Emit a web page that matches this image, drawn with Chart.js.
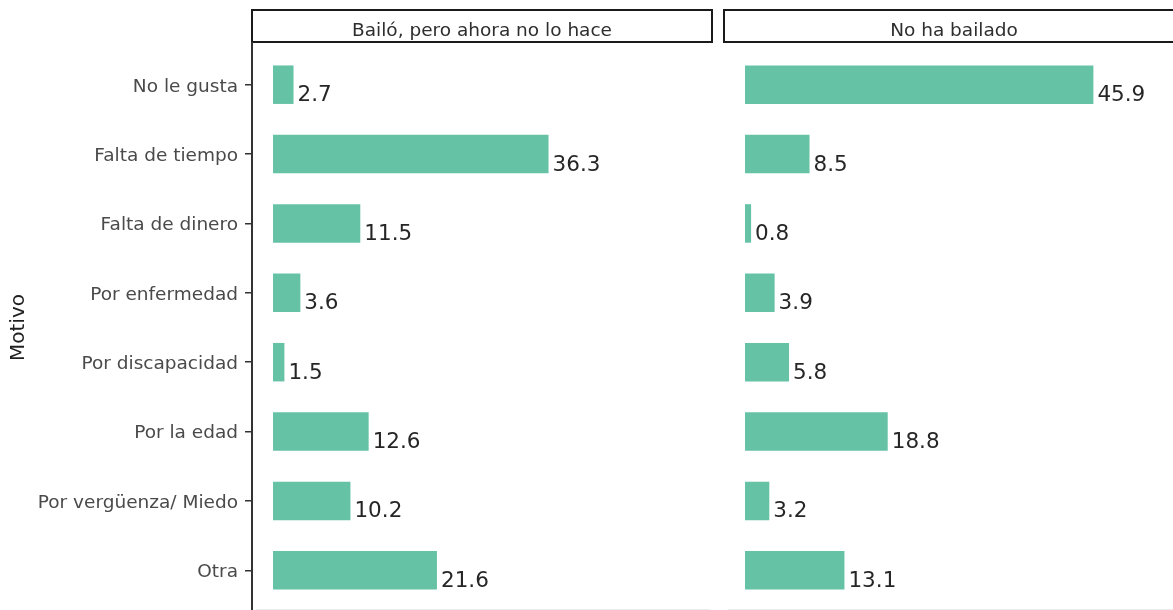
<!DOCTYPE html>
<html>
<head>
<meta charset="utf-8">
<script src="https://cdn.jsdelivr.net/npm/chart.js@4.4.1/dist/chart.umd.min.js"></script>
<style>
  html, body { margin: 0; padding: 0; background: #ffffff; overflow: hidden; width: 1173px; height: 610px; }
  #wrap { position: relative; width: 1173px; height: 610px; overflow: hidden; }
  canvas { position: absolute; top: 0; }
  #c1 { left: 0px; }
  #c2 { left: 721px; }
</style>
</head>
<body>
<div id="wrap">
  <canvas id="c1" width="716" height="610"></canvas>
  <canvas id="c2" width="470" height="610"></canvas>
</div>
<script>
// ---- data ----
const categories = [
  'No le gusta',
  'Falta de tiempo',
  'Falta de dinero',
  'Por enfermedad',
  'Por discapacidad',
  'Por la edad',
  'Por vergüenza/ Miedo',
  'Otra'
];
const valuesBailo = [2.7, 36.3, 11.5, 3.6, 1.5, 12.6, 10.2, 21.6];
const valuesNoBailado = [45.9, 8.5, 0.8, 3.9, 5.8, 18.8, 3.2, 13.1];
const panelTitles = ['Bailó, pero ahora no lo hace', 'No ha bailado'];
const yAxisTitle = 'Motivo';

// ---- styling ----
const FONT = "'DejaVu Sans', 'Liberation Sans', Arial, sans-serif";
const BAR_COLOR = '#66C2A5';
const X_MIN = -2.77;
const X_MAX = 57.84;

Chart.defaults.font.family = FONT;

const stripPlugin = {
  id: 'strip',
  afterDraw(chart, args, opts) {
    const ctx = chart.ctx;
    const { left, right } = chart.chartArea;
    ctx.save();
    ctx.fillStyle = '#ffffff';
    ctx.fillRect(left, 10, right - left, 32);
    ctx.strokeStyle = '#1a1a1a';
    ctx.lineWidth = 2;
    ctx.strokeRect(left, 10, right - left, 32);
    ctx.fillStyle = '#2e2e2e';
    ctx.font = "18.5px " + FONT;
    ctx.textAlign = 'center';
    ctx.textBaseline = 'alphabetic';
    ctx.fillText(opts.title, (left + right) / 2, 36);
    ctx.strokeStyle = '#ececec';
    ctx.lineWidth = 1;
    ctx.beginPath();
    ctx.moveTo(left + 4, 609.5);
    ctx.lineTo(right - 2, 609.5);
    ctx.stroke();
    if (opts.axisLine) {
      ctx.strokeStyle = '#333333';
      ctx.lineWidth = 2;
      ctx.beginPath();
      ctx.moveTo(left, 42);
      ctx.lineTo(left, 612);
      ctx.stroke();
    }
    ctx.restore();
  }
};

const valueLabelPlugin = {
  id: 'valueLabels',
  afterDatasetsDraw(chart) {
    const ctx = chart.ctx;
    const meta = chart.getDatasetMeta(0);
    const data = chart.data.datasets[0].data;
    ctx.save();
    ctx.fillStyle = '#262626';
    ctx.font = "21.5px " + FONT;
    ctx.textAlign = 'left';
    ctx.textBaseline = 'alphabetic';
    meta.data.forEach((bar, i) => {
      ctx.fillText(data[i].toFixed(1), bar.x + 4, bar.y + 16.5);
    });
    ctx.restore();
  }
};

function makeChart(canvasId, values, title, isLeft) {
  const yScale = {
    type: 'category',
    display: isLeft,
    offset: true,
    border: { display: false },
    grid: {
      display: true,
      drawOnChartArea: false,
      drawTicks: true,
      tickLength: 7,
      offset: false,
      color: '#333333',
      lineWidth: 1.5
    },
    ticks: {
      color: '#4a4a4a',
      padding: 7,
      labelOffset: 2,
      font: { size: 18.5, family: FONT }
    },
    title: {
      display: isLeft,
      text: yAxisTitle,
      color: '#1f1f1f',
      font: { size: 20, family: FONT },
      padding: { top: 7, bottom: 0 }
    },
    afterFit(scale) {
      if (isLeft) scale.width = 252;
      scale.paddingTop = 0;
      scale.paddingBottom = 0;
    }
  };
  return new Chart(document.getElementById(canvasId), {
    type: 'bar',
    data: {
      labels: categories,
      datasets: [{
        data: values,
        backgroundColor: BAR_COLOR,
        borderWidth: 0,
        barPercentage: 0.555,
        categoryPercentage: 1.0
      }]
    },
    options: {
      indexAxis: 'y',
      responsive: false,
      animation: false,
      devicePixelRatio: 1,
      layout: {
        padding: isLeft
          ? { left: 0, right: 4, top: 50, bottom: 5 }
          : { left: 3, right: 7, top: 50, bottom: 5 }
      },
      plugins: {
        legend: { display: false },
        tooltip: { enabled: false },
        strip: { title: title, axisLine: isLeft }
      },
      scales: {
        x: {
          type: 'linear',
          display: false,
          min: X_MIN,
          max: X_MAX,
          grid: { display: false }
        },
        y: yScale
      }
    },
    plugins: [stripPlugin, valueLabelPlugin]
  });
}

makeChart('c1', valuesBailo, panelTitles[0], true);
makeChart('c2', valuesNoBailado, panelTitles[1], false);
</script>
</body>
</html>
